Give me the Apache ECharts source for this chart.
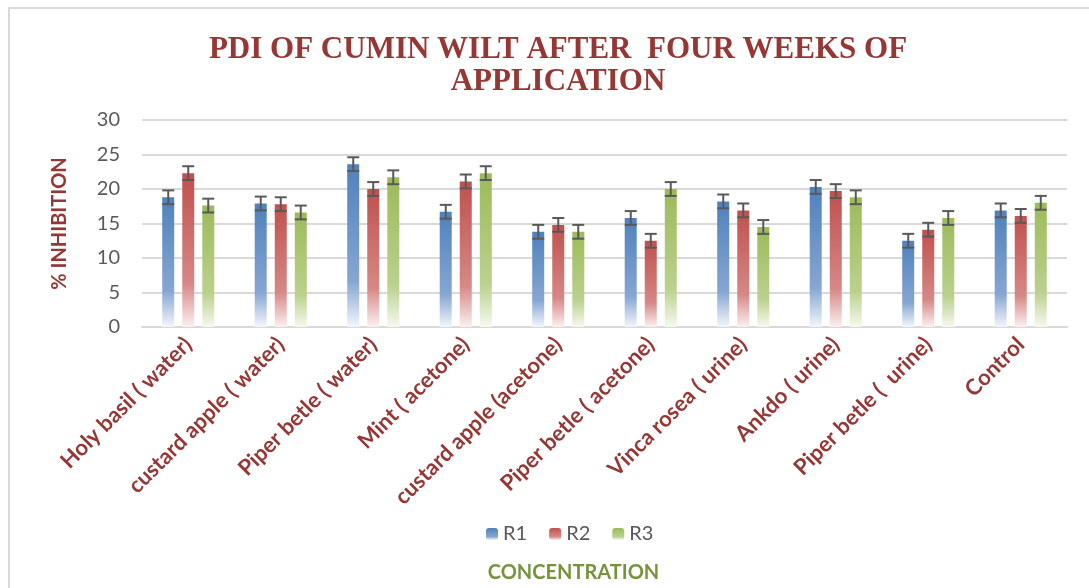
<!DOCTYPE html>
<html>
<head>
<meta charset="utf-8">
<script src="https://cdn.jsdelivr.net/npm/echarts@6/dist/echarts.min.js"></script>
<style>
  html, body { margin: 0; padding: 0; background: #fff; }
  #main { position: absolute; left: 0; top: 0; width: 1089px; height: 588px; }
  #frame { position: absolute; left: 8px; top: 7px; width: 1100px; height: 600px;
           border-left: 2px solid #d9d9d9; border-top: 2px solid #d9d9d9; }
</style>
</head>
<body>
<div id="frame"></div>
<div id="main"></div>
<script>
// categories and values
var categories = ['Holy basil ( water)', 'custard apple ( water)', 'Piper betle ( water)', 'Mint ( acetone)',
    'custard apple (acetone)', 'Piper betle ( acetone)', 'Vinca rosea ( urine)', 'Ankdo ( urine)',
    'Piper betle (  urine)', 'Control'];
var r1 = [18.8, 17.9, 23.6, 16.7, 13.8, 15.8, 18.2, 20.3, 12.5, 16.9];
var r2 = [22.3, 17.8, 20.0, 21.1, 14.8, 12.5, 16.9, 19.7, 14.1, 16.1];
var r3 = [17.6, 16.6, 21.7, 22.3, 13.8, 20.0, 14.5, 18.8, 15.8, 18.0];
var errR1 = [1, 1, 1, 1, 1, 1, 1, 1, 1, 1];
var errR2 = [1, 1, 1, 1, 1, 1, 1, 1, 1, 1];
var errR3 = [1, 1, 1, 1, 1, 1, 1, 1, 1, 1];

var myChart = echarts.init(document.getElementById('main'));

function grad(c0, c1, c2) {
    return new echarts.graphic.LinearGradient(0, 0, 0, 1, [
        { offset: 0, color: c0 },
        { offset: 0.72, color: c1 },
        { offset: 1, color: c2 }
    ]);
}

// error bar series, shifted to sit on its bar
function errSeries(vals, errs, shift) {
    var data = [];
    for (var i = 0; i < vals.length; i++) {
        data.push([i, vals[i], errs[i]]);
    }
    return {
        type: 'custom',
        data: data,
        z: 10,
        silent: true,
        renderItem: function(params, api) {
            var x = api.coord([api.value(0), 0])[0] + shift;
            var hi = api.coord([api.value(0), api.value(1) + api.value(2)])[1];
            var lo = api.coord([api.value(0), api.value(1) - api.value(2)])[1];
            var st = { stroke: '#595959', lineWidth: 2 };
            return {
                type: 'group',
                children: [
                    { type: 'line', shape: { x1: x, y1: hi, x2: x, y2: lo }, style: st },
                    { type: 'line', shape: { x1: x - 6, y1: hi, x2: x + 6, y2: hi }, style: st },
                    { type: 'line', shape: { x1: x - 6, y1: lo, x2: x + 6, y2: lo }, style: st }
                ]
            };
        }
    };
}

var option = {
    animation: false,
    title: {
        text: 'PDI OF CUMIN WILT AFTER  FOUR WEEKS OF\nAPPLICATION',
        left: 553,
        top: 29,
        textAlign: 'center',
        textStyle: {
            fontFamily: 'Liberation Serif',
            fontWeight: 'bold',
            fontSize: 31,
            lineHeight: 32,
            color: '#953735'
        }
    },
    legend: {
        data: ['R1', 'R2', 'R3'],
        left: 481,
        top: 519,
        itemWidth: 12,
        itemHeight: 12,
        itemGap: 22,
        textStyle: { fontFamily: 'Lato', fontSize: 20, color: '#595959' }
    },
    grid: { left: 142, right: 22, top: 120, bottom: 261 },
    xAxis: {
        type: 'category',
        data: categories,
        name: 'CONCENTRATION',
        nameLocation: 'middle',
        nameGap: 236,
        nameTextStyle: { fontFamily: 'Lato', fontWeight: 'bold', fontSize: 20, color: '#77933c',
            padding: [0, 62, 0, 0] },
        axisLine: { lineStyle: { color: '#d9d9d9', width: 2 } },
        axisTick: { show: false },
        axisLabel: {
            rotate: 45,
            interval: 0,
            margin: 14,
            fontFamily: 'Lato',
            fontWeight: 'bold',
            fontSize: 22,
            color: '#953735'
        }
    },
    yAxis: {
        type: 'value',
        min: 0,
        max: 30,
        interval: 5,
        name: '% INHIBITION',
        nameLocation: 'middle',
        nameGap: 72,
        nameTextStyle: { fontFamily: 'Lato', fontWeight: 'bold', fontSize: 20, color: '#953735' },
        axisLabel: { fontFamily: 'Lato', fontSize: 20, color: '#595959', margin: 22 },
        splitLine: { lineStyle: { color: '#d9d9d9', width: 2 } }
    },
    series: [{
        name: 'R1',
        type: 'bar',
        data: r1,
        barWidth: 12,
        barGap: '67%',
        itemStyle: { color: grad('#4f81bd', '#86a6d2', '#f3f6fb') }
    }, {
        name: 'R2',
        type: 'bar',
        data: r2,
        barWidth: 12,
        barGap: '67%',
        itemStyle: { color: grad('#c0504d', '#d68886', '#fbf0f0') }
    }, {
        name: 'R3',
        type: 'bar',
        data: r3,
        barWidth: 12,
        barGap: '67%',
        itemStyle: { color: grad('#9bbb59', '#bad18d', '#f6f9ee') }
    },
        errSeries(r1, errR1, -20),
        errSeries(r2, errR2, 0),
        errSeries(r3, errR3, 20)
    ]
};

myChart.setOption(option);
</script>
</body>
</html>
